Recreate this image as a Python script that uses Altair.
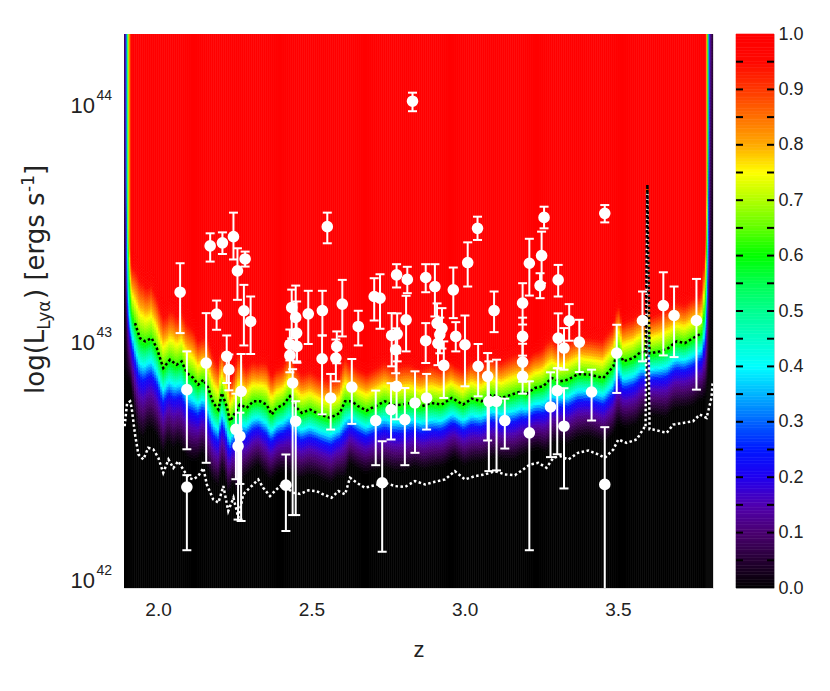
import numpy as np
import pandas as pd
import altair as alt

# ---------------- data ----------------
Z_DOMAIN = [1.889, 3.810]
L_DOMAIN = [41.962, 44.294]

# black dotted curve (log L)
curve_b_z = [1.889, 1.899, 1.909, 1.925, 1.941, 1.958, 1.979, 1.996, 2.017, 2.039,
             2.061, 2.077, 2.094, 2.115, 2.131, 2.148, 2.164, 2.180, 2.197, 2.208,
             2.224, 2.235, 2.251, 2.267, 2.289, 2.311, 2.333, 2.354, 2.371, 2.387,
             2.409, 2.430, 2.447, 2.469, 2.496, 2.528, 2.561, 2.593, 2.610, 2.632,
             2.653, 2.680, 2.708, 2.740, 2.767, 2.795, 2.827, 2.860, 2.892, 2.925,
             2.958, 2.995, 3.023, 3.055, 3.088, 3.121, 3.153, 3.186, 3.202, 3.229,
             3.256, 3.284, 3.311, 3.338, 3.370, 3.409, 3.452, 3.485, 3.501, 3.517,
             3.550, 3.577, 3.590, 3.596, 3.603, 3.610, 3.637, 3.664, 3.691, 3.718,
             3.745, 3.773, 3.787, 3.797, 3.810]
curve_b_l = [43.588, 43.252, 43.147, 43.077, 43.014, 43.000, 43.014, 42.972, 42.888, 42.923,
             42.902, 42.916, 42.867, 42.846, 42.818, 42.839, 42.804, 42.741, 42.713, 42.783,
             42.727, 42.664, 42.699, 42.734, 42.720, 42.748, 42.748, 42.734, 42.692, 42.720,
             42.734, 42.769, 42.727, 42.699, 42.713, 42.692, 42.678, 42.699, 42.748, 42.748,
             42.727, 42.709, 42.727, 42.748, 42.731, 42.734, 42.741, 42.727, 42.741, 42.734,
             42.762, 42.734, 42.759, 42.748, 42.776, 42.762, 42.776, 42.790, 42.779, 42.804,
             42.811, 42.846, 42.832, 42.839, 42.863, 42.860, 42.846, 42.895, 42.972, 42.916,
             42.930, 42.958, 42.950, 43.660, 42.950, 42.951, 42.958, 42.972, 43.000, 42.993,
             43.014, 43.035, 43.168, 43.420, 43.800]

# white dotted curve (log L)
curve_w_z = [1.891, 1.899, 1.909, 1.914, 1.925, 1.936, 1.952, 1.968, 1.985, 2.001,
             2.017, 2.034, 2.050, 2.066, 2.082, 2.099, 2.115, 2.131, 2.148, 2.159,
             2.180, 2.197, 2.213, 2.229, 2.246, 2.262, 2.278, 2.294, 2.311, 2.327,
             2.343, 2.365, 2.381, 2.398, 2.420, 2.441, 2.463, 2.490, 2.517, 2.539,
             2.566, 2.588, 2.610, 2.626, 2.648, 2.675, 2.708, 2.740, 2.773, 2.805,
             2.838, 2.871, 2.903, 2.936, 2.968, 3.001, 3.034, 3.066, 3.099, 3.131,
             3.164, 3.191, 3.213, 3.240, 3.267, 3.289, 3.311, 3.338, 3.370, 3.403,
             3.436, 3.457, 3.485, 3.501, 3.528, 3.561, 3.585, 3.590, 3.596, 3.603,
             3.615, 3.637, 3.659, 3.680, 3.713, 3.745, 3.767, 3.789, 3.805, 3.809]
curve_w_l = [42.643, 42.739, 42.748, 42.720, 42.608, 42.524, 42.503, 42.552, 42.545, 42.510,
             42.447, 42.503, 42.467, 42.496, 42.461, 42.426, 42.419, 42.433, 42.467, 42.398,
             42.335, 42.321, 42.391, 42.286, 42.342, 42.258, 42.356, 42.377, 42.398, 42.419,
             42.384, 42.349, 42.370, 42.391, 42.384, 42.363, 42.358, 42.373, 42.370, 42.356,
             42.342, 42.370, 42.356, 42.426, 42.405, 42.384, 42.395, 42.405, 42.391, 42.387,
             42.412, 42.398, 42.409, 42.419, 42.454, 42.419, 42.433, 42.440, 42.454, 42.440,
             42.437, 42.461, 42.482, 42.489, 42.468, 42.510, 42.517, 42.503, 42.531, 42.541,
             42.524, 42.510, 42.545, 42.587, 42.573, 42.587, 42.636, 42.634, 43.630, 42.630,
             42.629, 42.622, 42.615, 42.650, 42.657, 42.664, 42.692, 42.678, 42.762, 42.832]

# completeness across the band between the curves (t=0 white curve, t=1 black curve)
band_t = [0.18, 0.28, 0.45, 0.64, 0.79, 0.97, 1.20, 1.34, 1.48, 1.62]
band_c = [0.00, 0.04, 0.12, 0.22, 0.40, 0.60, 0.75, 0.85, 0.95, 1.00]

# completeness drop at the redshift edges
edge_z = [1.889, 1.893, 1.896, 1.899, 1.902, 1.905, 1.909, 1.915,
          3.786, 3.790, 3.794, 3.797, 3.800, 3.804, 3.810]
edge_f = [0.04, 0.12, 0.22, 0.40, 0.60, 0.75, 0.87, 1.00,
          1.00, 0.85, 0.60, 0.35, 0.20, 0.10, 0.05]

# colour table, equally spaced stops 0.00, 0.05, ..., 1.00
cmap_stops = [0.00, 0.05, 0.10, 0.15, 0.20, 0.25, 0.30, 0.35, 0.40, 0.45, 0.50,
              0.55, 0.60, 0.65, 0.70, 0.75, 0.80, 0.85, 0.90, 0.95, 1.00]
cmap_cols = ["#000000", "#260034", "#4a0070", "#5000b0", "#2000f0", "#0018ff", "#0064ff",
             "#00b4ff", "#00ffff", "#00ffc8", "#00ff90", "#00ff50", "#00ff00", "#60ff00",
             "#b0ff00", "#ffff00", "#ffaa00", "#ff7000", "#ff3800", "#ff0800", "#ff0000"]

# objects with error bars
pt_z = [2.072, 2.170, 2.210, 2.246, 2.259, 2.284, 2.094, 2.094, 2.157, 2.191,
        2.224, 2.231, 2.271, 2.254, 2.267, 2.261, 2.280, 2.302, 2.552, 2.417,
        2.436, 2.449, 2.452, 2.430, 2.430, 2.453, 2.439, 2.449, 2.490, 2.536,
        2.535, 2.563, 2.580, 2.583, 2.601, 2.653, 2.632, 2.710, 2.731, 2.705,
        2.724, 2.778, 2.813, 2.762, 2.780, 2.775, 2.778, 2.760, 2.805, 2.809,
        2.838, 2.873, 2.903, 2.873, 2.876, 2.910, 2.926, 2.919, 2.913, 2.932,
        2.963, 2.971, 3.001, 3.010, 3.042, 3.044, 3.075, 3.079, 3.104, 3.096,
        3.131, 3.259, 3.457, 3.211, 3.251, 3.246, 3.305, 3.189, 3.189, 3.189,
        3.189, 3.211, 3.341, 3.305, 3.324, 3.374, 3.280, 3.302, 3.324, 3.414,
        3.496, 3.457, 3.580, 3.648, 3.683, 3.756, 2.830]
pt_l = [43.207, 43.402, 43.415, 43.441, 43.297, 43.347, 42.797, 42.387, 42.909, 43.115,
        42.937, 42.881, 42.790, 42.630, 42.601, 42.559, 43.129, 43.084, 43.483, 42.395,
        43.143, 43.101, 43.035, 42.987, 42.941, 42.979, 42.825, 42.664, 43.116, 43.130,
        42.927, 42.762, 42.930, 42.979, 43.157, 43.063, 42.808, 42.667, 42.405, 43.189,
        43.182, 43.280, 43.261, 43.025, 43.031, 42.965, 42.811, 42.713, 42.671, 43.091,
        42.741, 43.269, 43.231, 43.003, 42.762, 43.076, 43.055, 43.029, 42.992, 42.899,
        43.217, 43.021, 42.986, 43.332, 43.476, 42.895, 42.853, 42.748, 42.748, 43.130,
        42.667, 43.522, 43.539, 43.329, 43.361, 43.235, 43.259, 43.161, 43.021, 42.913,
        42.853, 42.615, 43.087, 43.014, 42.972, 42.997, 42.724, 42.793, 42.643, 42.787,
        42.951, 42.398, 43.088, 43.151, 43.109, 43.088, 44.011]
pt_lo = [43.035, 43.336, 43.368, 43.345, 43.175, 43.315, 42.546, 42.121, 42.489, 43.049,
         42.825, 42.794, 42.244, 42.420, 42.400, 42.250, 42.983, 42.947, 43.413, 42.202,
         43.013, 42.979, 42.916, 42.920, 42.870, 42.910, 42.269, 42.269, 42.989, 43.025,
         42.693, 42.629, 42.832, 42.908, 43.021, 42.983, 42.653, 42.479, 42.115, 43.088,
         43.053, 43.227, 43.203, 42.895, 42.916, 42.866, 42.672, 42.587, 42.479, 42.958,
         42.531, 43.207, 43.105, 42.909, 42.629, 42.990, 42.970, 42.950, 42.900, 42.762,
         43.098, 42.958, 42.811, 43.231, 43.427, 42.769, 42.583, 42.454, 42.457, 43.039,
         42.549, 43.476, 43.501, 43.193, 43.245, 43.182, 43.189, 43.071, 42.940, 42.830,
         42.780, 42.121, 43.003, 42.887, 42.881, 42.871, 42.513, 42.525, 42.381, 42.667,
         42.783, 41.900, 42.916, 42.941, 42.934, 42.797, 43.969]
pt_hi = [43.329, 43.455, 43.459, 43.542, 43.392, 43.378, 42.958, 42.437, 43.119, 43.172,
         43.025, 42.945, 42.947, 42.780, 42.700, 42.630, 43.238, 43.189, 43.542, 42.524,
         43.218, 43.235, 43.168, 43.050, 43.000, 43.040, 42.883, 42.748, 43.213, 43.213,
         43.025, 42.863, 43.008, 43.042, 43.259, 43.129, 42.926, 42.793, 42.580, 43.266,
         43.283, 43.325, 43.314, 43.119, 43.118, 43.055, 42.950, 42.824, 42.804, 43.192,
         42.874, 43.325, 43.325, 43.077, 42.863, 43.160, 43.140, 43.100, 43.060, 43.000,
         43.311, 43.081, 43.109, 43.417, 43.525, 42.989, 42.951, 42.916, 42.923, 43.210,
         42.759, 43.567, 43.574, 43.432, 43.462, 43.287, 43.322, 43.245, 43.100, 42.990,
         42.910, 42.832, 43.157, 43.118, 43.056, 43.091, 42.870, 42.887, 42.803, 42.881,
         43.070, 42.639, 43.210, 43.291, 43.231, 43.263, 44.047]

x_tick_values = [2.0, 2.5, 3.0, 3.5]
y_tick_values = [42, 43, 44]
cbar_tick_values = [0.0, 0.1, 0.2, 0.3, 0.4, 0.5, 0.6, 0.7, 0.8, 0.9, 1.0]
cbar_minor_values = [0.05, 0.1, 0.15, 0.2, 0.25, 0.3, 0.35, 0.4, 0.45, 0.5,
                     0.55, 0.6, 0.65, 0.7, 0.75, 0.8, 0.85, 0.9, 0.95]

# ---------------- completeness grid ----------------
col_edges = np.unique(np.round(np.concatenate([
    np.arange(Z_DOMAIN[0], 1.916, 0.0033),
    np.arange(1.916, 3.786, 0.0066),
    np.arange(3.786, Z_DOMAIN[1], 0.0033),
    [Z_DOMAIN[1]]]), 4))

cells = []
for z0, z1 in zip(col_edges[:-1], col_edges[1:]):
    zc = 0.5 * (z0 + z1)
    lb = np.interp(zc, curve_b_z, curve_b_l)
    lw = np.interp(zc, curve_w_z, curve_w_l)
    d = max(lb - lw, 0.03)
    f = float(np.interp(zc, edge_z, edge_f))
    lo_e = lw + band_t[0] * d
    hi_e = lw + band_t[-1] * d
    cells.append((z0, z1, L_DOMAIN[0] - 0.2, lo_e, 0.0))
    n = int(np.ceil((hi_e - lo_e) / 0.012))
    e = np.linspace(lo_e, hi_e, n + 1)
    for a, b in zip(e[:-1], e[1:]):
        t = (0.5 * (a + b) - lw) / d
        cells.append((z0, z1, a, b, f * float(np.interp(t, band_t, band_c))))
    cells.append((z0, z1, hi_e, L_DOMAIN[1] + 0.2, f))
heat_df = pd.DataFrame(cells, columns=["z0", "z1", "l0", "l1", "c"]).round(4)

bdf = pd.DataFrame({"z": curve_b_z, "l": curve_b_l})
bdf = bdf[(bdf.z > 1.92) & (bdf.z < 3.78)]
wdf = pd.DataFrame({"z": curve_w_z, "l": curve_w_l})
pdf = pd.DataFrame({"z": pt_z, "l": pt_l, "lo": pt_lo, "hi": pt_hi})
caps = pd.concat([pdf[["z", "lo"]].rename(columns={"lo": "v"}),
                  pdf[["z", "hi"]].rename(columns={"hi": "v"})])
ytick_df = pd.DataFrame({"v": y_tick_values, "e": [str(v) for v in y_tick_values]})

# ---------------- chart ----------------
FONT = "Liberation Sans"
TFONT = "DejaVu Sans"
W, H = 589, 554
cscale = alt.Scale(domain=cmap_stops, range=cmap_cols, clamp=True, interpolate="rgb")
xscale = alt.Scale(domain=Z_DOMAIN, nice=False, zero=False)
yscale = alt.Scale(domain=L_DOMAIN, nice=False, zero=False)
XAX = alt.Axis(values=x_tick_values, format=".1f", ticks=False, domain=False, grid=False,
               labelFontSize=19, labelFont=FONT, labelColor="#222", labelPadding=12,
               title="z", titleFont=FONT, titleFontSize=22, titleFontWeight="normal",
               titleColor="#222", titlePadding=20)


def X(field):
    return alt.X(field, scale=xscale, axis=XAX)


def Y(field):
    return alt.Y(field, scale=yscale, axis=None)


heat = alt.Chart(heat_df).mark_rect(strokeWidth=0.6, clip=True, opacity=1).encode(
    x=X("z0:Q"), x2="z1:Q", y=Y("l0:Q"), y2="l1:Q",
    color=alt.Color("c:Q", scale=cscale, legend=None),
    stroke=alt.Stroke("c:Q", scale=cscale, legend=None))

wline = alt.Chart(wdf).mark_line(color="white", strokeWidth=2.5, strokeDash=[2.5, 2.5], clip=True).encode(
    x=X("z:Q"), y=Y("l:Q"), order="z:Q")
bline = alt.Chart(bdf).mark_line(color="black", strokeWidth=2.5, strokeDash=[2.5, 2.5], clip=True).encode(
    x=X("z:Q"), y=Y("l:Q"), order="z:Q")

ebar = alt.Chart(pdf).mark_rule(color="white", strokeWidth=2, clip=True).encode(
    x=X("z:Q"), y=Y("lo:Q"), y2="hi:Q")
ecap = alt.Chart(caps).mark_tick(color="white", orient="horizontal", size=9, thickness=2,
                                 opacity=1, clip=True).encode(x=X("z:Q"), y=Y("v:Q"))
pts = alt.Chart(pdf).mark_circle(color="white", opacity=1, size=135).encode(x=X("z:Q"), y=Y("l:Q"))

ylab_base = alt.Chart(ytick_df).mark_text(text="10", align="right", baseline="middle", fontSize=22,
                                          font=FONT, color="#222", dy=2).encode(
    x=alt.value(-29), y=Y("v:Q"))
ylab_exp = alt.Chart(ytick_df).mark_text(align="right", baseline="middle", fontSize=14,
                                         font=FONT, color="#222", dy=-8).encode(
    x=alt.value(-12), y=Y("v:Q"), text="e:N")

# y-axis title assembled from pieces: log(L_Lyα) [ergs s^-1]
S_MAIN, S_SMALL = 26, 17
title_x = -80
title_y0 = 360
pieces = [("log(L", S_MAIN, 0, 2.47 * S_MAIN),
          ("Lyα", S_SMALL, 6, 1.81 * S_SMALL),
          (") [ergs s", S_MAIN, 0, 4.119 * S_MAIN),
          ("-1", S_SMALL, -10, 1.0 * S_SMALL),
          ("]", S_MAIN, 0, 0.39 * S_MAIN)]
one = alt.Data(values=[{"k": 1}])
title_layers = []
ypos = title_y0
for txt, fs, shift, width in pieces:
    title_layers.append(alt.Chart(one).mark_text(
        text=txt, fontSize=fs, font=TFONT, color="#222", angle=270, align="left",
        baseline="alphabetic").encode(x=alt.value(title_x + shift), y=alt.value(ypos)))
    ypos -= width

main = alt.layer(heat, wline, bline, ebar, ecap, pts, ylab_base, ylab_exp, *title_layers).properties(
    width=W, height=H)

# colour bar (colour cells + short black tick marks on both edges)
step = 0.005
cb_lo = np.round(np.arange(0, 1, step), 4)
cb_df = pd.DataFrame({"c0": cb_lo, "c1": np.round(cb_lo + step, 4), "c": np.round(cb_lo + step / 2, 4)})
cb_ticks = pd.DataFrame({"v": cbar_minor_values})
cyscale = alt.Scale(domain=[0, 1], nice=False, zero=False)
CAX = alt.Axis(orient="right", values=cbar_tick_values, format=".1f", ticks=False, domain=False,
               grid=False, labelFontSize=18, labelFont=FONT, labelColor="#222", labelPadding=4,
               title=None)
CBW = 38
cbar_rect = alt.Chart(cb_df).mark_rect(strokeWidth=0.6, opacity=1).encode(
    x=alt.value(0), x2=alt.value(CBW),
    y=alt.Y("c0:Q", scale=cyscale, axis=CAX), y2="c1:Q",
    color=alt.Color("c:Q", scale=cscale, legend=None),
    stroke=alt.Stroke("c:Q", scale=cscale, legend=None))
cb_t1 = alt.Chart(cb_ticks).mark_point(shape="M -1 0 L 1 0", size=49, strokeWidth=2, color="black",
                                       filled=False, opacity=1).encode(
    x=alt.value(3.5), y=alt.Y("v:Q", scale=cyscale, axis=CAX))
cb_t2 = alt.Chart(cb_ticks).mark_point(shape="M -1 0 L 1 0", size=49, strokeWidth=2, color="black",
                                       filled=False, opacity=1).encode(
    x=alt.value(CBW - 3.5), y=alt.Y("v:Q", scale=cyscale, axis=CAX))
cbar = alt.layer(cbar_rect, cb_t1, cb_t2).properties(width=CBW, height=H)

chart = alt.hconcat(main, cbar, spacing=17).resolve_scale(color="independent", stroke="independent").properties(
    padding={"left": 11, "top": 16, "right": 5, "bottom": 5}
).configure_view(stroke="#808080", strokeWidth=1).configure(background="white")

chart.save("out.html", embed_options={"renderer": "svg", "actions": False})
